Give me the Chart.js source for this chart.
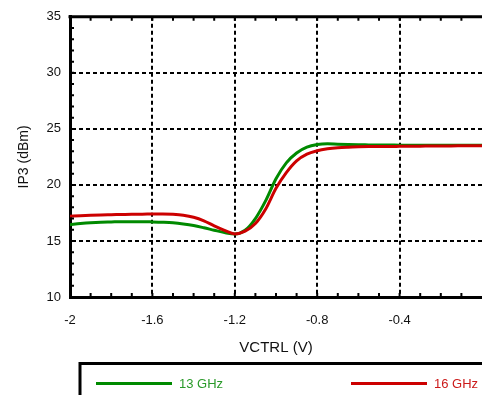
<!DOCTYPE html>
<html>
<head>
<meta charset="utf-8">
<script src="https://cdn.jsdelivr.net/npm/chart.js@4.4.1/dist/chart.umd.min.js"></script>
<style>
    html, body { margin: 0; padding: 0; background: #fff; overflow: hidden; }
    #wrap { width: 482px; height: 395px; }
</style>
</head>
<body>
<div id="wrap"><canvas id="chart" width="482" height="395"></canvas></div>
<script>
// значения по оси X (VCTRL, В)
const vctrl = [
    -2, -1.95, -1.9, -1.85, -1.8, -1.75, -1.7, -1.65, -1.6, -1.55,
    -1.5, -1.45, -1.4, -1.35, -1.3, -1.25, -1.2, -1.15, -1.1, -1.05,
    -1.0, -0.95, -0.9, -0.85, -0.8, -0.75, -0.7, -0.65, -0.6, -0.55,
    -0.5, -0.45, -0.4, -0.35, -0.3, -0.25, -0.2, -0.15, -0.1, -0.05, 0
]

// IP3 (dBm) на 13 ГГц
const ip3At13GHz = [
    16.45, 16.55, 16.63, 16.68, 16.70, 16.72, 16.72, 16.72, 16.70, 16.67,
    16.62, 16.52, 16.38, 16.18, 15.96, 15.75, 15.62, 15.95, 17.00, 18.60,
    20.55, 21.97, 22.85, 23.37, 23.60, 23.67, 23.63, 23.60, 23.58, 23.57,
    23.56, 23.56, 23.55, 23.55, 23.55, 23.54, 23.54, 23.54, 23.53, 23.53, 23.53
]

// IP3 (dBm) на 16 ГГц
const ip3At16GHz = [
    17.20, 17.25, 17.29, 17.32, 17.34, 17.36, 17.38, 17.39, 17.40, 17.41,
    17.38, 17.30, 17.12, 16.80, 16.35, 15.95, 15.63, 15.87, 16.55, 17.85,
    19.70, 21.10, 22.15, 22.75, 23.05, 23.22, 23.32, 23.37, 23.40, 23.42,
    23.43, 23.43, 23.44, 23.45, 23.46, 23.47, 23.48, 23.48, 23.49, 23.50, 23.50
]

const seriesLabels = ["13 GHz", "16 GHz"]
const seriesColors = ["#008a00", "#cc0000"]
const legendTextColors = ["#2a9a2a", "#cc1a1a"]

const FONT = "'Liberation Sans', Arial, sans-serif"

const toPoints = (xs, ys) => xs.map((x, i) => ({ x: x, y: ys[i] }))

/**
 * мелкие засечки внутрь, верхняя рамка и рамка легенды
 */
const framePlugin = {
    id: "frame",
    afterDatasetsDraw(chart) {
        const { ctx, chartArea: a, scales } = chart
        ctx.save()
        ctx.strokeStyle = "#000"

        // верхняя рамка
        ctx.lineWidth = 3
        ctx.beginPath()
        ctx.moveTo(a.left - 1.5, a.top)
        ctx.lineTo(a.right + 2, a.top)
        ctx.stroke()

        // засечки по X (шаг 0.1)
        ctx.lineWidth = 2
        ctx.beginPath()
        for (let k = 1; k < 20; k++) {
            const px = scales.x.getPixelForValue(-2 + k * 0.1)
            ctx.moveTo(px, a.bottom)
            ctx.lineTo(px, a.bottom - 4)
            ctx.moveTo(px, a.top)
            ctx.lineTo(px, a.top + 4)
        }
        // засечки по Y (шаг 1)
        for (let v = 11; v < 35; v++) {
            const py = scales.y.getPixelForValue(v)
            ctx.moveTo(a.left, py)
            ctx.lineTo(a.left + 4, py)
        }
        ctx.stroke()
        ctx.restore()
    },
    afterDraw(chart) {
        const { ctx } = chart
        ctx.save()
        ctx.lineWidth = 3
        ctx.strokeStyle = "#000"
        ctx.strokeRect(80, 363.5, 420, 60)

        const slots = [96, 351]
        ctx.font = "13px " + FONT
        ctx.textBaseline = "middle"
        chart.data.datasets.forEach((ds, i) => {
            const x0 = slots[i]
            ctx.strokeStyle = ds.borderColor
            ctx.lineWidth = 3
            ctx.beginPath()
            ctx.moveTo(x0, 383.5)
            ctx.lineTo(x0 + 76, 383.5)
            ctx.stroke()
            ctx.fillStyle = legendTextColors[i]
            ctx.fillText(ds.label, x0 + 83, 384)
        })
        ctx.restore()
    }
}

new Chart(document.getElementById("chart"), {
    type: "line",
    data: {
        datasets: [
            {
                label: seriesLabels[0],
                data: toPoints(vctrl, ip3At13GHz),
                borderColor: seriesColors[0],
                borderWidth: 3,
                pointRadius: 0,
                fill: false,
                cubicInterpolationMode: "monotone",
                order: 2
            },
            {
                label: seriesLabels[1],
                data: toPoints(vctrl, ip3At16GHz),
                borderColor: seriesColors[1],
                borderWidth: 3,
                pointRadius: 0,
                fill: false,
                cubicInterpolationMode: "monotone",
                order: 1
            }
        ]
    },
    options: {
        responsive: false,
        animation: false,
        layout: { padding: { left: 0, right: 0, top: 14, bottom: 38 } },
        plugins: {
            legend: { display: false },
            tooltip: { enabled: false }
        },
        scales: {
            x: {
                type: "linear",
                min: -2,
                max: 0,
                afterFit: (scale) => {
                    scale.height = 60
                    scale.paddingRight = 0
                    scale.paddingLeft = 0
                },
                ticks: {
                    stepSize: 0.4,
                    color: "#111",
                    padding: 16,
                    maxRotation: 0,
                    font: { family: FONT, size: 13 },
                    callback: (v) => Math.abs(v) < 1e-9 ? "" : String(Math.round(v * 10) / 10)
                },
                grid: {
                    color: (c) => (c.tick && Math.abs(c.tick.value) < 1e-9) ? "rgba(0,0,0,0)" : "#000",
                    lineWidth: 2,
                    drawTicks: false
                },
                border: { color: "#000", width: 3, dash: [4, 3] },
                title: {
                    display: true,
                    text: "VCTRL (V)",
                    color: "#111",
                    font: { family: FONT, size: 15 },
                    padding: { top: 0, bottom: 0 }
                }
            },
            y: {
                min: 10,
                max: 35,
                afterFit: (scale) => { scale.width = 70 },
                ticks: {
                    stepSize: 5,
                    color: "#111",
                    padding: 9,
                    font: { family: FONT, size: 13 }
                },
                grid: {
                    color: "#000",
                    lineWidth: 2,
                    drawTicks: false
                },
                border: { color: "#000", width: 3, dash: [4, 3] },
                title: {
                    display: true,
                    text: "IP3 (dBm)",
                    color: "#111",
                    font: { family: FONT, size: 14 },
                    padding: { top: 16, bottom: 0 }
                }
            }
        }
    },
    plugins: [framePlugin]
})
</script>
</body>
</html>
